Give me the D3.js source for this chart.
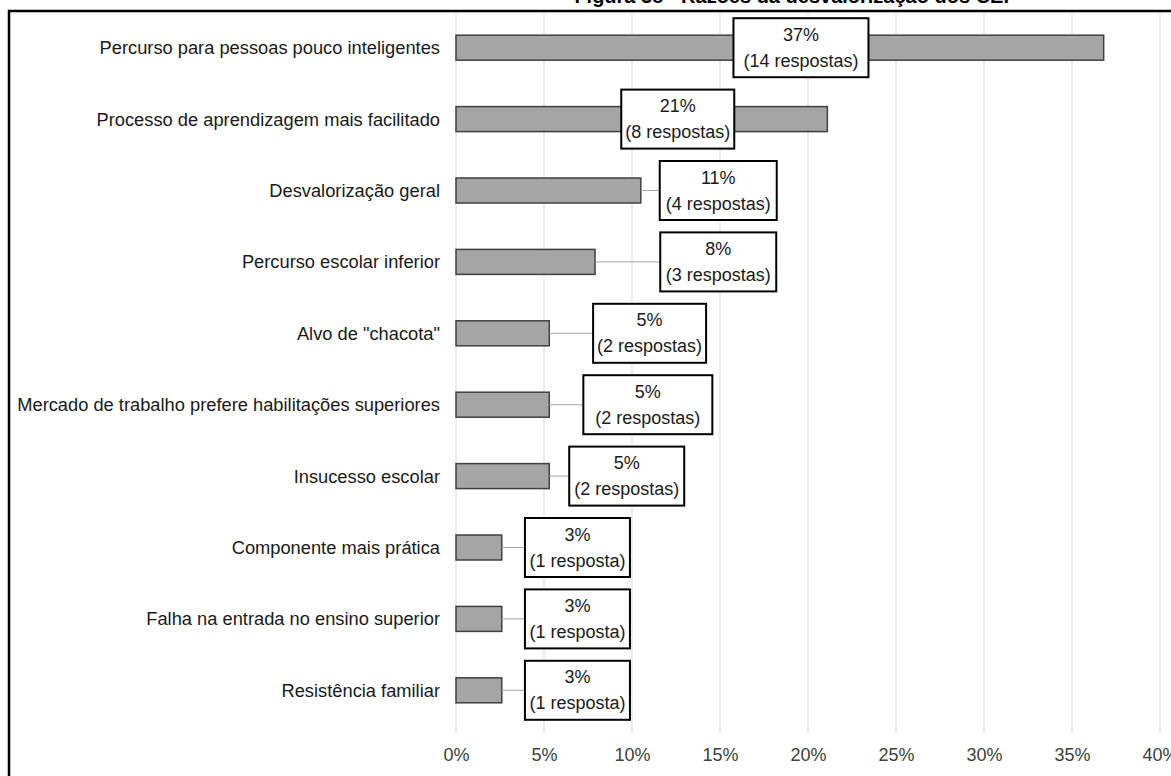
<!DOCTYPE html>
<html>
<head>
<meta charset="utf-8">
<script src="https://cdn.jsdelivr.net/npm/d3@7"></script>
<style>
  html, body { margin: 0; padding: 0; background: #fff; }
  svg { display: block; }
  text { font-family: "Liberation Sans", Arial, sans-serif; }
</style>
</head>
<body>
<svg id="chart" width="1171" height="776"></svg>
<script>
// Motivos apontados (percentagem de respostas e número de respostas)
const categories = [
  "Percurso para pessoas pouco inteligentes",
  "Processo de aprendizagem mais facilitado",
  "Desvalorização geral",
  "Percurso escolar inferior",
  "Alvo de \"chacota\"",
  "Mercado de trabalho prefere habilitações superiores",
  "Insucesso escolar",
  "Componente mais prática",
  "Falha na entrada no ensino superior",
  "Resistência familiar"
];
const percentages = [36.8, 21.1, 10.5, 7.9, 5.3, 5.3, 5.3, 2.6, 2.6, 2.6];
const responses = [14, 8, 4, 3, 2, 2, 2, 1, 1, 1];
const xTicks = [0, 5, 10, 15, 20, 25, 30, 35, 40];
const titleText = "Figura 38 - Razões da desvalorização dos CEF";

// Callout placement: box centre on the value axis (in %) and box width (px)
const calloutCenter = [19.6, 12.6, 14.9, 14.9, 11.0, 10.9, 9.7, 6.9, 6.9, 6.9];
const calloutWidth = [135, 113, 117, 116, 113, 129, 115, 105, 105, 105];

const svg = d3.select("#chart");

const x = d3.scaleLinear().domain([0, 40]).range([456, 1160]);
const y = d3.scaleBand().domain(categories).range([12, 726]).paddingInner(0.65).paddingOuter(0.325);

// Title (partly clipped above the frame)
svg.append("text")
  .attr("x", 795).attr("y", 3)
  .attr("text-anchor", "middle")
  .style("font-weight", "bold")
  .style("font-size", "20px")
  .attr("fill", "#000")
  .text(titleText);

// Gridlines
svg.append("g").selectAll("line").data(xTicks).join("line")
  .attr("x1", d => x(d)).attr("x2", d => x(d))
  .attr("y1", 12).attr("y2", 734)
  .attr("stroke", "#d9d9d9").attr("stroke-width", 1);

// Axis tick labels
const axis = d3.axisBottom(x).tickValues(xTicks).tickFormat(d => d + "%").tickSize(0).tickPadding(0);
const gx = svg.append("g").attr("transform", "translate(0,748)").call(axis);
gx.select(".domain").remove();
gx.selectAll("text")
  .style("font-family", "'Liberation Sans', Arial, sans-serif")
  .style("font-size", "18px")
  .attr("fill", "#404040");

// Category labels
svg.append("g").selectAll("text").data(categories).join("text")
  .attr("x", 440)
  .attr("y", d => y(d) + y.bandwidth() / 2)
  .attr("dy", "0.35em")
  .attr("text-anchor", "end")
  .style("font-size", "18.3px")
  .attr("fill", "#1a1a1a")
  .text(d => d);

// Bars
svg.append("g").selectAll("rect").data(categories).join("rect")
  .attr("x", x(0))
  .attr("y", d => y(d))
  .attr("width", (d, i) => x(percentages[i]) - x(0))
  .attr("height", y.bandwidth())
  .attr("fill", "#a5a5a5")
  .attr("stroke", "#404040")
  .attr("stroke-width", 1.5);

// Callouts
const boxH = 59;
const callouts = svg.append("g").selectAll("g").data(categories).join("g");
callouts.each(function(d, i) {
  const g = d3.select(this);
  const cy = y(d) + y.bandwidth() / 2;
  const cx = x(calloutCenter[i]);
  const w = calloutWidth[i];
  const left = cx - w / 2;
  const barEnd = x(percentages[i]);
  if (left > barEnd) {
    g.append("line")
      .attr("x1", barEnd).attr("x2", left)
      .attr("y1", cy).attr("y2", cy)
      .attr("stroke", "#a6a6a6").attr("stroke-width", 1);
  }
  g.append("rect")
    .attr("x", left).attr("y", cy - boxH / 2)
    .attr("width", w).attr("height", boxH)
    .attr("fill", "#fff")
    .attr("stroke", "#000").attr("stroke-width", 2);
  g.append("text")
    .attr("x", cx).attr("y", cy - 7)
    .attr("text-anchor", "middle")
    .style("font-size", "18px")
    .attr("fill", "#1a1a1a")
    .text(Math.round(percentages[i]) + "%");
  g.append("text")
    .attr("x", cx).attr("y", cy + 19)
    .attr("text-anchor", "middle")
    .style("font-size", "18px")
    .attr("fill", "#1a1a1a")
    .text("(" + responses[i] + (responses[i] === 1 ? " resposta)" : " respostas)"));
});

// Chart frame
svg.append("rect")
  .attr("x", 9).attr("y", 11)
  .attr("width", 1200).attr("height", 800)
  .attr("fill", "none")
  .attr("stroke", "#000").attr("stroke-width", 2.5);
</script>
</body>
</html>
